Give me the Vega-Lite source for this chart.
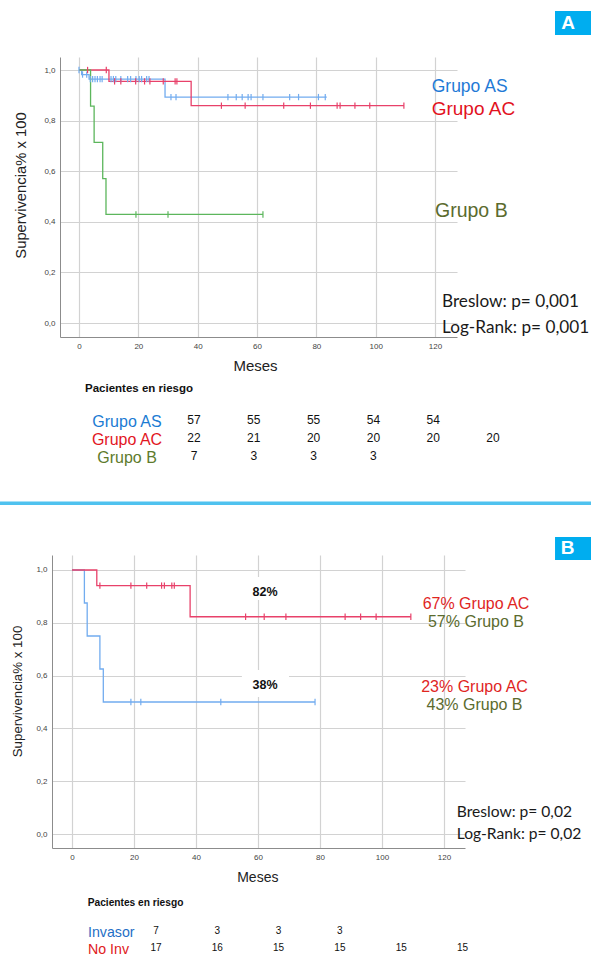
{
  "$schema": "https://vega.github.io/schema/vega-lite/v6.json",
  "autosize": {"type": "pad"},
  "padding": {"left": 0, "top": 11, "right": 0, "bottom": 0},
  "background": "white",
  "bounds": "flush",
  "center": true,
  "spacing": 218,
  "config": {
    "view": {"stroke": null},
    "axis": {
      "grid": true, "gridColor": "#d2d2d2", "gridWidth": 1.2,
      "domainColor": "#8c8c8c", "domainWidth": 1,
      "ticks": false, "tickSize": 0,
      "labelColor": "#444", "labelFont": "Liberation Sans", "labelFontSize": 8,
      "labelBound": false, "labelFlush": false, "labelOverlap": false,
      "titleFont": "Liberation Sans", "titleColor": "#222", "titleFontWeight": "normal"
    }
  },
  "datasets": {
    "kmA": [
      {"grupo": "Grupo AS", "t": 0, "s": 1},
      {"grupo": "Grupo AS", "t": 0.9, "s": 0.982},
      {"grupo": "Grupo AS", "t": 3.4, "s": 0.964},
      {"grupo": "Grupo AS", "t": 29, "s": 0.893},
      {"grupo": "Grupo AS", "t": 83.5, "s": 0.893},
      {"grupo": "Grupo AC", "t": 0, "s": 1},
      {"grupo": "Grupo AC", "t": 10.1, "s": 0.955},
      {"grupo": "Grupo AC", "t": 37.8, "s": 0.859},
      {"grupo": "Grupo AC", "t": 109.5, "s": 0.859},
      {"grupo": "Grupo B", "t": 0, "s": 1},
      {"grupo": "Grupo B", "t": 3.9, "s": 0.857},
      {"grupo": "Grupo B", "t": 5.1, "s": 0.714},
      {"grupo": "Grupo B", "t": 8, "s": 0.571},
      {"grupo": "Grupo B", "t": 9.1, "s": 0.429},
      {"grupo": "Grupo B", "t": 62, "s": 0.429}
    ],
    "censA": [
      {"grupo": "Grupo AS", "t": 0, "s": 1},
      {"grupo": "Grupo AS", "t": 1.2, "s": 0.982},
      {"grupo": "Grupo AS", "t": 2.6, "s": 0.982},
      {"grupo": "Grupo AS", "t": 3.8, "s": 0.964},
      {"grupo": "Grupo AS", "t": 4.6, "s": 0.964},
      {"grupo": "Grupo AS", "t": 5.4, "s": 0.964},
      {"grupo": "Grupo AS", "t": 6.2, "s": 0.964},
      {"grupo": "Grupo AS", "t": 7.1, "s": 0.964},
      {"grupo": "Grupo AS", "t": 7.8, "s": 0.964},
      {"grupo": "Grupo AS", "t": 10.8, "s": 0.964},
      {"grupo": "Grupo AS", "t": 11.6, "s": 0.964},
      {"grupo": "Grupo AS", "t": 12.4, "s": 0.964},
      {"grupo": "Grupo AS", "t": 14.1, "s": 0.964},
      {"grupo": "Grupo AS", "t": 16.4, "s": 0.964},
      {"grupo": "Grupo AS", "t": 17.4, "s": 0.964},
      {"grupo": "Grupo AS", "t": 19.2, "s": 0.964},
      {"grupo": "Grupo AS", "t": 20.3, "s": 0.964},
      {"grupo": "Grupo AS", "t": 21.1, "s": 0.964},
      {"grupo": "Grupo AS", "t": 22.8, "s": 0.964},
      {"grupo": "Grupo AS", "t": 23.6, "s": 0.964},
      {"grupo": "Grupo AS", "t": 31, "s": 0.893},
      {"grupo": "Grupo AS", "t": 32.7, "s": 0.893},
      {"grupo": "Grupo AS", "t": 50.2, "s": 0.893},
      {"grupo": "Grupo AS", "t": 53, "s": 0.893},
      {"grupo": "Grupo AS", "t": 55, "s": 0.893},
      {"grupo": "Grupo AS", "t": 57, "s": 0.893},
      {"grupo": "Grupo AS", "t": 58, "s": 0.893},
      {"grupo": "Grupo AS", "t": 62, "s": 0.893},
      {"grupo": "Grupo AS", "t": 71, "s": 0.893},
      {"grupo": "Grupo AS", "t": 74, "s": 0.893},
      {"grupo": "Grupo AS", "t": 80.7, "s": 0.893},
      {"grupo": "Grupo AS", "t": 83, "s": 0.893},
      {"grupo": "Grupo AC", "t": 2.9, "s": 1},
      {"grupo": "Grupo AC", "t": 9.2, "s": 1},
      {"grupo": "Grupo AC", "t": 12, "s": 0.955},
      {"grupo": "Grupo AC", "t": 14.1, "s": 0.955},
      {"grupo": "Grupo AC", "t": 19.1, "s": 0.955},
      {"grupo": "Grupo AC", "t": 22.1, "s": 0.955},
      {"grupo": "Grupo AC", "t": 23.9, "s": 0.955},
      {"grupo": "Grupo AC", "t": 28.4, "s": 0.955},
      {"grupo": "Grupo AC", "t": 32.4, "s": 0.955},
      {"grupo": "Grupo AC", "t": 33, "s": 0.955},
      {"grupo": "Grupo AC", "t": 48, "s": 0.859},
      {"grupo": "Grupo AC", "t": 56, "s": 0.859},
      {"grupo": "Grupo AC", "t": 69, "s": 0.859},
      {"grupo": "Grupo AC", "t": 78, "s": 0.859},
      {"grupo": "Grupo AC", "t": 87, "s": 0.859},
      {"grupo": "Grupo AC", "t": 88, "s": 0.859},
      {"grupo": "Grupo AC", "t": 93, "s": 0.859},
      {"grupo": "Grupo AC", "t": 98, "s": 0.859},
      {"grupo": "Grupo AC", "t": 109.5, "s": 0.859},
      {"grupo": "Grupo B", "t": 19.2, "s": 0.429},
      {"grupo": "Grupo B", "t": 30, "s": 0.429},
      {"grupo": "Grupo B", "t": 62, "s": 0.429}
    ],
    "riskA": [
      {"grupo": "Grupo AS", "t": 0, "n": 57},
      {"grupo": "Grupo AS", "t": 20, "n": 55},
      {"grupo": "Grupo AS", "t": 40, "n": 55},
      {"grupo": "Grupo AS", "t": 60, "n": 54},
      {"grupo": "Grupo AS", "t": 80, "n": 54},
      {"grupo": "Grupo AC", "t": 0, "n": 22},
      {"grupo": "Grupo AC", "t": 20, "n": 21},
      {"grupo": "Grupo AC", "t": 40, "n": 20},
      {"grupo": "Grupo AC", "t": 60, "n": 20},
      {"grupo": "Grupo AC", "t": 80, "n": 20},
      {"grupo": "Grupo AC", "t": 100, "n": 20},
      {"grupo": "Grupo B", "t": 0, "n": 7},
      {"grupo": "Grupo B", "t": 20, "n": 3},
      {"grupo": "Grupo B", "t": 40, "n": 3},
      {"grupo": "Grupo B", "t": 60, "n": 3}
    ],
    "grpA": [{"grupo": "Grupo AS"}, {"grupo": "Grupo AC"}, {"grupo": "Grupo B"}],
    "kmB": [
      {"grupo": "Invasor", "t": 0, "s": 1},
      {"grupo": "Invasor", "t": 4, "s": 0.875},
      {"grupo": "Invasor", "t": 4.9, "s": 0.75},
      {"grupo": "Invasor", "t": 9, "s": 0.625},
      {"grupo": "Invasor", "t": 10.1, "s": 0.5},
      {"grupo": "Invasor", "t": 78.4, "s": 0.5},
      {"grupo": "No Inv", "t": 0, "s": 1},
      {"grupo": "No Inv", "t": 8, "s": 0.941},
      {"grupo": "No Inv", "t": 38.1, "s": 0.823},
      {"grupo": "No Inv", "t": 109.3, "s": 0.823}
    ],
    "censB": [
      {"grupo": "Invasor", "t": 19, "s": 0.5},
      {"grupo": "Invasor", "t": 22.2, "s": 0.5},
      {"grupo": "Invasor", "t": 48, "s": 0.5},
      {"grupo": "Invasor", "t": 78.4, "s": 0.5},
      {"grupo": "No Inv", "t": 9, "s": 0.941},
      {"grupo": "No Inv", "t": 19, "s": 0.941},
      {"grupo": "No Inv", "t": 24.1, "s": 0.941},
      {"grupo": "No Inv", "t": 28.9, "s": 0.941},
      {"grupo": "No Inv", "t": 29.8, "s": 0.941},
      {"grupo": "No Inv", "t": 32.2, "s": 0.941},
      {"grupo": "No Inv", "t": 33, "s": 0.941},
      {"grupo": "No Inv", "t": 56, "s": 0.823},
      {"grupo": "No Inv", "t": 62, "s": 0.823},
      {"grupo": "No Inv", "t": 69, "s": 0.823},
      {"grupo": "No Inv", "t": 88.1, "s": 0.823},
      {"grupo": "No Inv", "t": 93.1, "s": 0.823},
      {"grupo": "No Inv", "t": 98.1, "s": 0.823},
      {"grupo": "No Inv", "t": 109.3, "s": 0.823}
    ],
    "riskB": [
      {"grupo": "Invasor", "t": 0, "n": 7},
      {"grupo": "Invasor", "t": 20, "n": 3},
      {"grupo": "Invasor", "t": 40, "n": 3},
      {"grupo": "Invasor", "t": 60, "n": 3},
      {"grupo": "No Inv", "t": 0, "n": 17},
      {"grupo": "No Inv", "t": 20, "n": 16},
      {"grupo": "No Inv", "t": 40, "n": 15},
      {"grupo": "No Inv", "t": 60, "n": 15},
      {"grupo": "No Inv", "t": 80, "n": 15},
      {"grupo": "No Inv", "t": 100, "n": 15}
    ],
    "grpB": [{"grupo": "Invasor"}, {"grupo": "No Inv"}]
  },
  "vconcat": [
    {
      "width": 397,
      "height": 280,
      "resolve": {"scale": {"x": "independent", "y": "independent", "color": "independent"}},
      "layer": [
        {
          "layer": [
            {
              "data": {"name": "kmA"},
              "mark": {"type": "line", "interpolate": "step-after", "strokeWidth": 1.3},
              "encoding": {
                "x": {"field": "t", "type": "quantitative",
                  "scale": {"domain": [-6.4, 127.4], "nice": false, "zero": false},
                  "axis": {"title": "Meses", "values": [0, 20, 40, 60, 80, 100, 120], "labelPadding": 9, "labelBaseline": "middle",
                    "titleFontSize": 15, "titleX": 195, "titleY": 33.7, "titleBaseline": "alphabetic", "titleAlign": "center"}},
                "y": {"field": "s", "type": "quantitative",
                  "scale": {"domain": [-0.0553, 1.0514], "nice": false, "zero": false},
                  "axis": {"title": "Supervivencia% x 100", "values": [0, 0.2, 0.4, 0.6, 0.8, 1],
                    "labelExpr": "replace(format(datum.value, '.1f'), '.', ',')", "labelPadding": 5,
                    "titleFontSize": 14.8, "titleX": -35, "titleY": 128, "titleAngle": -90, "titleBaseline": "alphabetic", "titleAlign": "center"}},
                "color": {"field": "grupo", "type": "nominal",
                  "scale": {"domain": ["Grupo AS", "Grupo AC", "Grupo B"], "range": ["#72acef", "#e8416a", "#5cb65c"]}, "legend": null}
              }
            },
            {
              "data": {"name": "censA"},
              "mark": {"type": "point", "shape": "M0,-1L0,1", "size": 40, "filled": false, "strokeWidth": 1.2, "opacity": 1},
              "encoding": {
                "x": {"field": "t", "type": "quantitative"},
                "y": {"field": "s", "type": "quantitative"},
                "color": {"field": "grupo", "type": "nominal", "legend": null}
              }
            },
            {
              "data": {"values": [{"label": "Grupo AS"}]},
              "mark": {"type": "text", "align": "left", "baseline": "alphabetic", "font": "Liberation Sans", "fontSize": 17.5, "color": "#1f7ad6"},
              "encoding": {"x": {"datum": 118.87}, "y": {"datum": 0.9142}, "text": {"field": "label"}}
            },
            {
              "data": {"values": [{"label": "Grupo AC"}]},
              "mark": {"type": "text", "align": "left", "baseline": "alphabetic", "font": "Liberation Sans", "fontSize": 19, "color": "#e2121e"},
              "encoding": {"x": {"datum": 118.87}, "y": {"datum": 0.8222}, "text": {"field": "label"}}
            },
            {
              "data": {"values": [{"label": "Grupo B"}]},
              "mark": {"type": "text", "align": "left", "baseline": "alphabetic", "font": "Liberation Sans", "fontSize": 19.5, "color": "#5b6b2e"},
              "encoding": {"x": {"datum": 119.99}, "y": {"datum": 0.4178}, "text": {"field": "label"}}
            },
            {
              "data": {"values": [{"label": "Breslow: p= 0,001"}]},
              "mark": {"type": "text", "align": "left", "baseline": "alphabetic", "font": "Lato", "fontSize": 17.2, "color": "#1a1a1a"},
              "encoding": {"x": {"datum": 122.35}, "y": {"datum": 0.0633}, "text": {"field": "label"}}
            },
            {
              "data": {"values": [{"label": "Log-Rank: p= 0,001"}]},
              "mark": {"type": "text", "align": "left", "baseline": "alphabetic", "font": "Lato", "fontSize": 17.2, "color": "#1a1a1a"},
              "encoding": {"x": {"datum": 122.35}, "y": {"datum": -0.0395}, "text": {"field": "label"}}
            },
            {
              "data": {"values": [{"label": "Pacientes en riesgo"}]},
              "mark": {"type": "text", "align": "left", "baseline": "alphabetic", "font": "Liberation Sans", "fontWeight": "bold", "fontSize": 11.5, "color": "#111"},
              "encoding": {"x": {"datum": 2.03}, "y": {"datum": -0.2715}, "text": {"field": "label"}}
            },
            {
              "data": {"values": [{"label": "A"}]},
              "mark": {"type": "rect", "color": "#00adef"},
              "encoding": {"x": {"datum": 160.43}, "x2": {"datum": 172.56}, "y": {"datum": 1.2332}, "y2": {"datum": 1.1384}}
            },
            {
              "data": {"values": [{"label": "A"}]},
              "mark": {"type": "text", "align": "center", "baseline": "alphabetic", "font": "Liberation Sans", "fontWeight": "bold", "fontSize": 19, "color": "white"},
              "encoding": {"x": {"datum": 164.81}, "y": {"datum": 1.1609}, "text": {"field": "label"}}
            },
            {
              "data": {"values": [{"label": "separador"}]},
              "mark": {"type": "rect", "color": "#4fc2ef"},
              "encoding": {"x": {"datum": -26.62}, "x2": {"datum": 172.56}, "y": {"datum": -0.7055}, "y2": {"datum": -0.7193}}
            }
          ]
        },
        {
          "layer": [
            {
              "data": {"name": "riskA"},
              "mark": {"type": "text", "align": "center", "baseline": "alphabetic", "font": "Liberation Sans", "fontSize": 12, "color": "#111"},
              "encoding": {
                "x": {"field": "t", "type": "quantitative", "scale": {"domain": [-44.81, 87.96], "nice": false, "zero": false}, "axis": null},
                "y": {"field": "grupo", "type": "nominal", "scale": {"type": "point", "domain": ["Grupo AS", "Grupo AC", "Grupo B"], "range": [367, 403], "padding": 0}, "axis": null},
                "text": {"field": "n"}
              }
            },
            {
              "data": {"name": "grpA"},
              "mark": {"type": "text", "align": "center", "baseline": "alphabetic", "font": "Liberation Sans", "fontSize": 16, "dy": 3.3},
              "encoding": {
                "x": {"datum": -22.4},
                "y": {"field": "grupo", "type": "nominal"},
                "text": {"field": "grupo"},
                "color": {"field": "grupo", "type": "nominal", "scale": {"domain": ["Grupo AS", "Grupo AC", "Grupo B"], "range": ["#1b7bd3", "#e2161f", "#5e7b2c"]}, "legend": null}
              }
            }
          ]
        }
      ]
    },
    {
      "width": 413,
      "height": 293,
      "resolve": {"scale": {"x": "independent", "y": "independent", "color": "independent"}},
      "layer": [
        {
          "layer": [
            {
              "data": {"values": [{"x0": 55.8, "x1": 68.7, "y0": 0.9735, "y1": 0.886}, {"x0": 54.8, "x1": 70, "y0": 0.621, "y1": 0.519}]},
              "mark": {"type": "rect", "color": "white"},
              "encoding": {
                "x": {"field": "x0", "type": "quantitative"}, "x2": {"field": "x1"},
                "y": {"field": "y0", "type": "quantitative"}, "y2": {"field": "y1"}
              }
            },
            {
              "data": {"name": "kmB"},
              "mark": {"type": "line", "interpolate": "step-after", "strokeWidth": 1.3},
              "encoding": {
                "x": {"field": "t", "type": "quantitative",
                  "scale": {"domain": [-6.45, 126.77], "nice": false, "zero": false},
                  "axis": {"title": "Meses", "values": [0, 20, 40, 60, 80, 100, 120], "labelPadding": 9, "labelBaseline": "middle",
                    "titleFontSize": 14, "titleX": 205.3, "titleY": 33.7, "titleBaseline": "alphabetic", "titleAlign": "center"}},
                "y": {"field": "s", "type": "quantitative",
                  "scale": {"domain": [-0.053, 1.0568], "nice": false, "zero": false},
                  "axis": {"title": "Supervivencia% x 100", "values": [0, 0.2, 0.4, 0.6, 0.8, 1],
                    "labelExpr": "replace(format(datum.value, '.1f'), '.', ',')", "labelPadding": 5,
                    "titleFontSize": 13.3, "titleX": -30.3, "titleY": 136, "titleAngle": -90, "titleBaseline": "alphabetic", "titleAlign": "center"}},
                "color": {"field": "grupo", "type": "nominal",
                  "scale": {"domain": ["Invasor", "No Inv"], "range": ["#72acef", "#e8416a"]}, "legend": null}
              }
            },
            {
              "data": {"name": "censB"},
              "mark": {"type": "point", "shape": "M0,-1L0,1", "size": 40, "filled": false, "strokeWidth": 1.2, "opacity": 1},
              "encoding": {
                "x": {"field": "t", "type": "quantitative"},
                "y": {"field": "s", "type": "quantitative"},
                "color": {"field": "grupo", "type": "nominal", "legend": null}
              }
            },
            {
              "data": {"values": [{"label": "82%", "v": 0.9015}, {"label": "38%", "v": 0.5481}]},
              "mark": {"type": "text", "align": "center", "baseline": "alphabetic", "font": "Liberation Sans", "fontWeight": "bold", "fontSize": 12.5, "color": "#111"},
              "encoding": {"x": {"datum": 62.26}, "y": {"field": "v", "type": "quantitative"}, "text": {"field": "label"}}
            },
            {
              "data": {"values": [{"label": "67% Grupo AC"}]},
              "mark": {"type": "text", "align": "center", "baseline": "alphabetic", "font": "Liberation Sans", "fontSize": 16, "color": "#e0261f"},
              "encoding": {"x": {"datum": 130.32}, "y": {"datum": 0.8511}, "text": {"field": "label"}}
            },
            {
              "data": {"values": [{"label": "57% Grupo B"}]},
              "mark": {"type": "text", "align": "center", "baseline": "alphabetic", "font": "Liberation Sans", "fontSize": 16, "color": "#5b6b2e"},
              "encoding": {"x": {"datum": 130.32}, "y": {"datum": 0.7852}, "text": {"field": "label"}}
            },
            {
              "data": {"values": [{"label": "23% Grupo AC"}]},
              "mark": {"type": "text", "align": "center", "baseline": "alphabetic", "font": "Liberation Sans", "fontSize": 16, "color": "#e0261f"},
              "encoding": {"x": {"datum": 129.84}, "y": {"datum": 0.539}, "text": {"field": "label"}}
            },
            {
              "data": {"values": [{"label": "43% Grupo B"}]},
              "mark": {"type": "text", "align": "center", "baseline": "alphabetic", "font": "Liberation Sans", "fontSize": 16, "color": "#5b6b2e"},
              "encoding": {"x": {"datum": 129.84}, "y": {"datum": 0.4697}, "text": {"field": "label"}}
            },
            {
              "data": {"values": [{"label": "Breslow: p= 0,02"}]},
              "mark": {"type": "text", "align": "left", "baseline": "alphabetic", "font": "Lato", "fontSize": 15.6, "color": "#1a1a1a"},
              "encoding": {"x": {"datum": 124.1}, "y": {"datum": 0.0655}, "text": {"field": "label"}}
            },
            {
              "data": {"values": [{"label": "Log-Rank: p= 0,02"}]},
              "mark": {"type": "text", "align": "left", "baseline": "alphabetic", "font": "Lato", "fontSize": 15.6, "color": "#1a1a1a"},
              "encoding": {"x": {"datum": 124.1}, "y": {"datum": -0.0189}, "text": {"field": "label"}}
            },
            {
              "data": {"values": [{"label": "Pacientes en riesgo"}]},
              "mark": {"type": "text", "align": "left", "baseline": "alphabetic", "font": "Liberation Sans", "fontWeight": "bold", "fontSize": 10.2, "color": "#111"},
              "encoding": {"x": {"datum": 5.06}, "y": {"datum": -0.2727}, "text": {"field": "label"}}
            },
            {
              "data": {"values": [{"label": "B"}]},
              "mark": {"type": "rect", "color": "#00adef"},
              "encoding": {"x": {"datum": 155.81}, "x2": {"datum": 167.42}, "y": {"datum": 1.125}, "y2": {"datum": 1.0379}}
            },
            {
              "data": {"values": [{"label": "B"}]},
              "mark": {"type": "text", "align": "center", "baseline": "alphabetic", "font": "Liberation Sans", "fontWeight": "bold", "fontSize": 19, "color": "white"},
              "encoding": {"x": {"datum": 159.84}, "y": {"datum": 1.0606}, "text": {"field": "label"}}
            }
          ]
        },
        {
          "layer": [
            {
              "data": {"name": "riskB"},
              "mark": {"type": "text", "align": "center", "baseline": "alphabetic", "font": "Liberation Sans", "fontSize": 10, "color": "#111"},
              "encoding": {
                "x": {"field": "t", "type": "quantitative", "scale": {"domain": [-33.93, 100.82], "nice": false, "zero": false}, "axis": null},
                "y": {"field": "grupo", "type": "nominal", "scale": {"type": "point", "domain": ["Invasor", "No Inv"], "range": [379.3, 396.2], "padding": 0}, "axis": null},
                "text": {"field": "n"}
              }
            },
            {
              "data": {"name": "grpB"},
              "mark": {"type": "text", "align": "left", "baseline": "alphabetic", "font": "Liberation Sans", "fontSize": 14.2, "dy": 2.6},
              "encoding": {
                "x": {"datum": -22.18},
                "y": {"field": "grupo", "type": "nominal"},
                "text": {"field": "grupo"},
                "color": {"field": "grupo", "type": "nominal", "scale": {"domain": ["Invasor", "No Inv"], "range": ["#1f6fc6", "#e0201c"]}, "legend": null}
              }
            }
          ]
        }
      ]
    }
  ]
}
